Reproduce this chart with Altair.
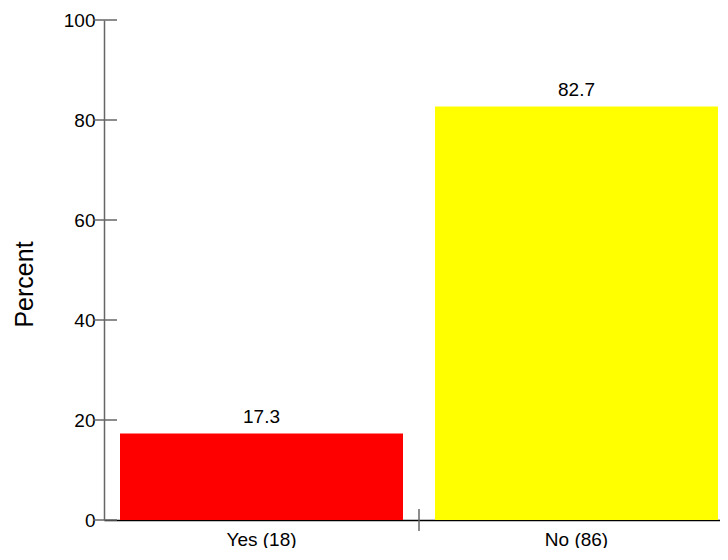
import altair as alt
import pandas as pd

categories = ["Yes (18)", "No (86)"]
percents = [17.3, 82.7]
labels = ["17.3", "82.7"]
colors = ["#ff0000", "#ffff00"]
y_ticks = [0, 20, 40, 60, 80, 100]

df = pd.DataFrame({"cat": categories, "pct": percents, "lab": labels, "col": colors})
ticks_df = pd.DataFrame({"t": y_ticks})

FONT = "Liberation Sans"

xscale = alt.Scale(domain=categories, range=[0, 630], paddingInner=0.1016, paddingOuter=0.0508)
yscale = alt.Scale(domain=[0, 100], nice=False)

bars = alt.Chart(df).mark_bar(stroke=None).encode(
    x=alt.X("cat:N", scale=xscale, sort=categories,
            axis=alt.Axis(title=None, labelAngle=0, ticks=False, domain=True,
                          domainColor="#000000", domainWidth=1.5,
                          labelFont=FONT, labelFontSize=19, labelColor="#000000",
                          labelBaseline="alphabetic", labelPadding=25)),
    y=alt.Y("pct:Q", scale=yscale,
            axis=alt.Axis(title="Percent", values=y_ticks, ticks=False, grid=False,
                          domainColor="#666666", domainWidth=1.5,
                          labelFont=FONT, labelFontSize=19, labelColor="#000000",
                          labelPadding=9,
                          titleFont=FONT, titleFontSize=25, titleFontWeight="normal",
                          titleColor="#000000", titleAngle=-90, titleAlign="center",
                          titleBaseline="middle", titleX=-80, titleY=264)),
    color=alt.Color("col:N", scale=None),
)

text = alt.Chart(df).mark_text(font=FONT, fontSize=19, baseline="alphabetic", dy=-11, color="#000000").encode(
    x=alt.X("cat:N", scale=xscale, sort=categories),
    y=alt.Y("pct:Q", scale=yscale),
    text="lab:N",
)

yticks = alt.Chart(ticks_df).mark_rule(color="#666666", strokeWidth=1.5).encode(
    y=alt.Y("t:Q", scale=yscale),
    x=alt.value(-11),
    x2=alt.value(13),
)

sep = alt.Chart(ticks_df.head(1)).mark_rule(color="#666666", strokeWidth=1.5).encode(
    x=alt.value(315),
    y=alt.value(489),
    y2=alt.value(511),
)

chart = alt.layer(bars, text, yticks, sep).properties(
    width=616, height=500,
    autosize=alt.AutoSizeParams(type="none"),
    padding={"left": 96, "top": 12, "right": 0, "bottom": 28},
).configure_view(stroke=None)

chart.save("out.html", embed_options={"renderer": "svg", "actions": False})
